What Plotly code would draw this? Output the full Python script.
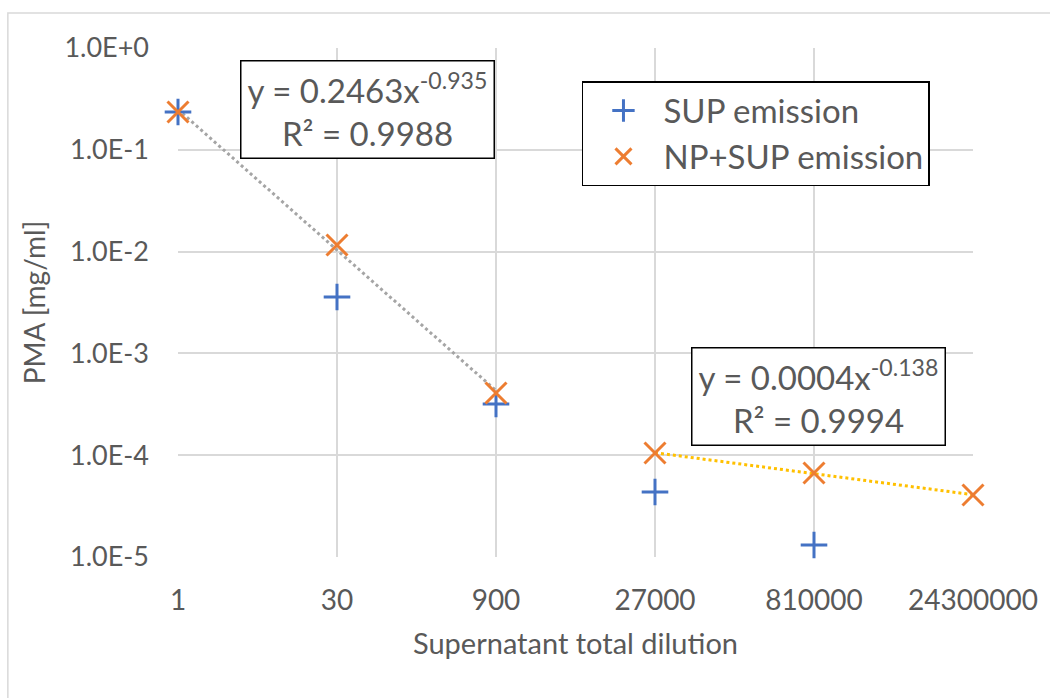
import numpy as np
import plotly.graph_objects as go

# ---- data ----
dilution = [1, 30, 900, 27000, 810000, 24300000]
x_tick_labels = ["1", "30", "900", "27000", "810000", "24300000"]
sup_x = [1, 30, 900, 27000, 810000]
sup_emission = [0.235, 3.58e-3, 3.18e-4, 4.35e-5, 1.31e-5]
np_sup_emission = [0.235, 0.0116, 4.08e-4, 1.05e-4, 6.68e-5, 4.06e-5]
y_tick_vals = [1e0, 1e-1, 1e-2, 1e-3, 1e-4, 1e-5]
y_tick_labels = ["1.0E+0", "1.0E-1", "1.0E-2", "1.0E-3", "1.0E-4", "1.0E-5"]
eq1_text = "y = 0.2463x<sup>-0.935</sup><br>R² = 0.9988"
eq2_text = "y = 0.0004x<sup>-0.138</sup><br>R² = 0.9994"

# ---- power-law trendlines (fit in log space) ----
def power_fit(xs, ys):
    b, a = np.polyfit(np.log10(xs), np.log10(ys), 1)
    xx = np.geomspace(min(xs), max(xs), 50)
    return xx, 10 ** a * xx ** b

t1x, t1y = power_fit(dilution[:3], np_sup_emission[:3])
t2x, t2y = power_fit(dilution[3:], np_sup_emission[3:])

FONT = "Lato"
GREY_TXT = "#595959"

fig = go.Figure()
fig.add_trace(go.Scatter(x=t1x, y=t1y, mode="lines", showlegend=False, hoverinfo="skip",
                         line=dict(color="#a5a5a5", width=3, dash="3px,3px")))
fig.add_trace(go.Scatter(x=t2x, y=t2y, mode="lines", showlegend=False, hoverinfo="skip",
                         line=dict(color="#ffc000", width=3, dash="3px,3px")))
fig.add_trace(go.Scatter(x=sup_x, y=sup_emission, mode="markers", name="SUP emission",
                         cliponaxis=False,
                         marker=dict(symbol="cross-thin", size=19,
                                     line=dict(color="#4472c4", width=3))))
fig.add_trace(go.Scatter(x=dilution, y=np_sup_emission, mode="markers", name="NP+SUP emission",
                         cliponaxis=False,
                         marker=dict(symbol="x-thin", size=21,
                                     line=dict(color="#ed7d31", width=3))))

L, R, T, B = 178, 73, 48, 141
W, H = 1050, 698
pw, ph = W - L - R, H - T - B

def px(xp):
    return (xp - L) / pw

def py(yp):
    return (H - B - yp) / ph

fig.update_layout(
    width=W, height=H,
    margin=dict(l=L, r=R, t=T, b=B),
    paper_bgcolor="white", plot_bgcolor="white",
    font=dict(family=FONT, color=GREY_TXT, size=28),
    xaxis=dict(type="log", range=[0, np.log10(24300000)],
               tickmode="array", tickvals=dilution, ticktext=x_tick_labels,
               showgrid=True, gridcolor="#d9d9d9", gridwidth=1.5,
               showline=False, zeroline=False, ticks="",
               ticklabelstandoff=24,
               tickfont=dict(size=28, color=GREY_TXT),
               title=dict(text="Supernatant total dilution", standoff=18,
                          font=dict(size=29, color=GREY_TXT))),
    yaxis=dict(type="log", range=[-5, 0],
               tickmode="array", tickvals=y_tick_vals, ticktext=y_tick_labels,
               showgrid=True, gridcolor="#d9d9d9", gridwidth=1.5,
               showline=False, zeroline=False, ticks="",
               ticklabelstandoff=28,
               tickfont=dict(size=27, color=GREY_TXT),
               title=dict(text="PMA [mg/ml]", standoff=10,
                          font=dict(size=28, color=GREY_TXT))),
    legend=dict(x=px(584), y=py(81), xanchor="left", yanchor="top",
                bordercolor="black", borderwidth=1.5, bgcolor="white",
                font=dict(size=33, color=GREY_TXT), itemwidth=70,
                tracegroupgap=0),
    showlegend=True,
)

fig.add_annotation(x=px(368), y=py(110), xref="paper", yref="paper",
                   xanchor="center", yanchor="middle",
                   text=eq1_text, showarrow=False, align="center",
                   font=dict(size=33, color=GREY_TXT),
                   bordercolor="black", borderwidth=1.5, bgcolor="white",
                   width=250, height=94)
fig.add_annotation(x=px(822), y=py(396), xref="paper", yref="paper",
                   xanchor="center", yanchor="middle",
                   text=eq2_text, showarrow=False, align="center",
                   font=dict(size=33, color=GREY_TXT),
                   bordercolor="black", borderwidth=1.5, bgcolor="white",
                   width=250, height=94)

# outer chart frame
fig.add_shape(type="rect", xref="paper", yref="paper", layer="below",
              x0=px(7), x1=px(1060), y0=py(710), y1=py(13),
              line=dict(color="#d9d9d9", width=1.5), fillcolor="rgba(0,0,0,0)")

fig.write_html("out.html")
